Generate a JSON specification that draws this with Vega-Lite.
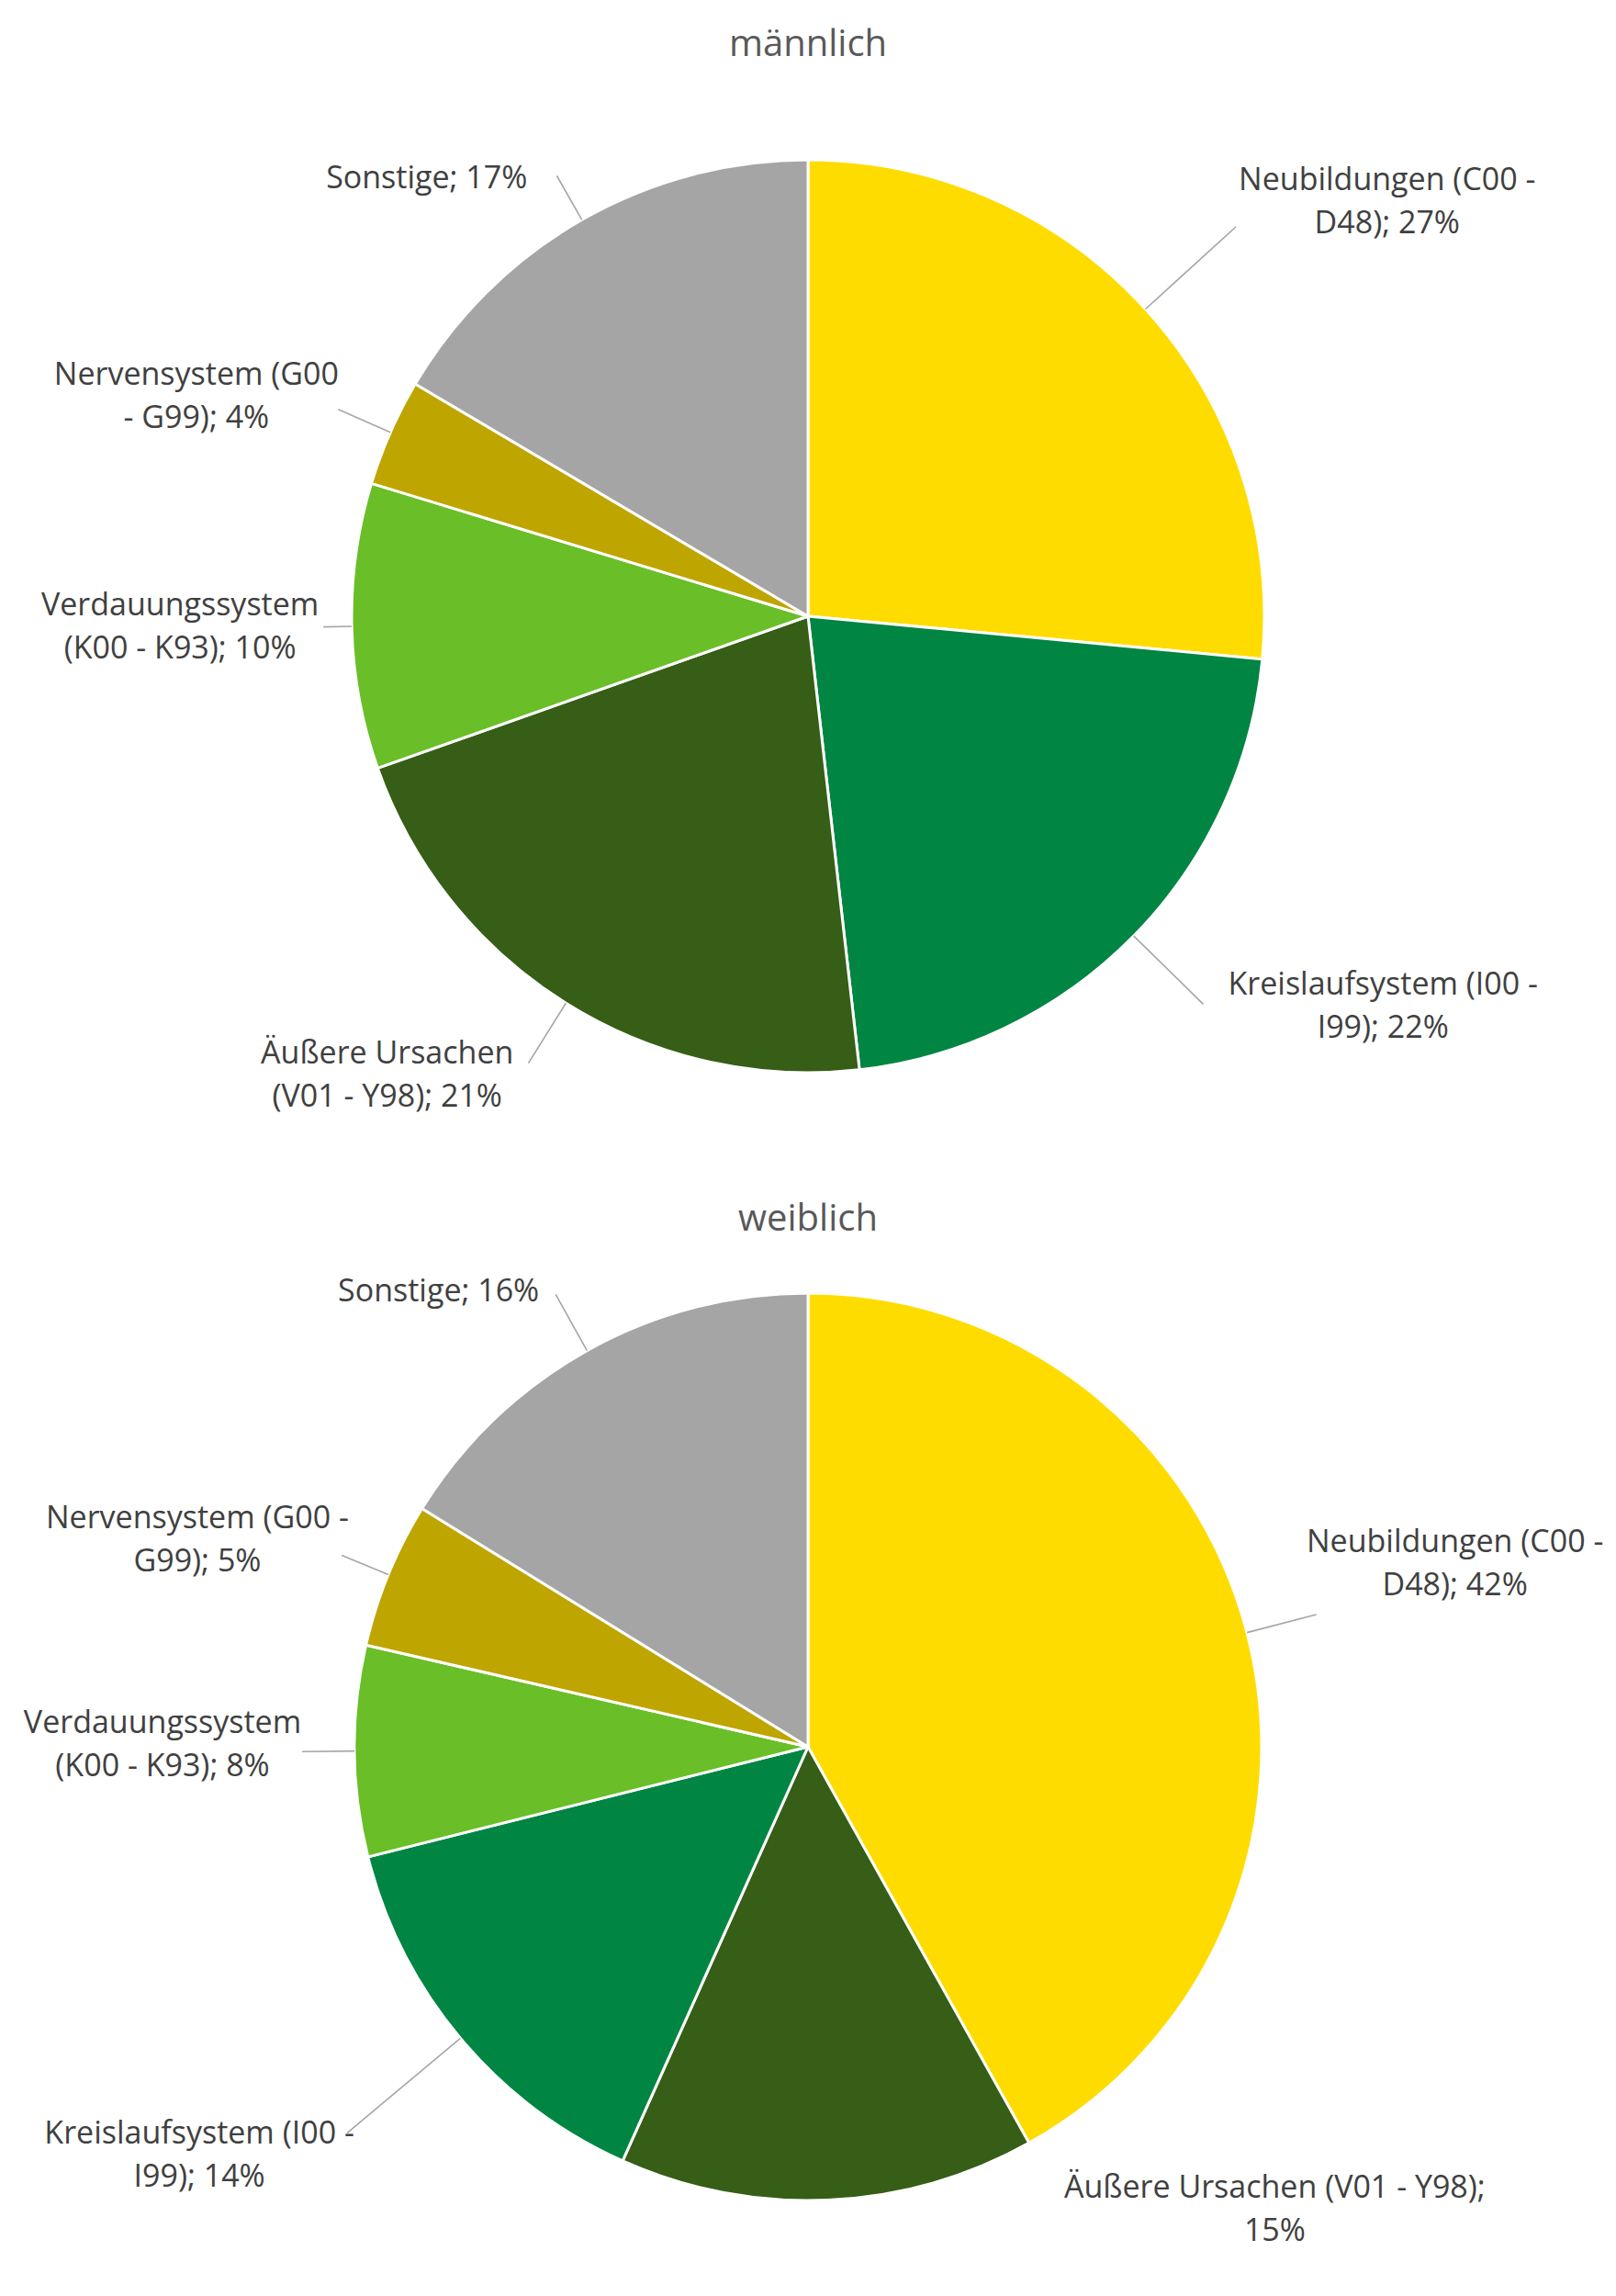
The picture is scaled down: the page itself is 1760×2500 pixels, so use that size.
{
  "$schema": "https://vega.github.io/schema/vega-lite/v6.json",
  "padding": {"left": 0, "right": 0, "top": 29, "bottom": 56},
  "spacing": 47,
  "background": "white",
  "config": {"view": {"stroke": null}},
  "data": {"values": [
    {"sex": "männlich", "cause": "Neubildungen", "ord": 1, "value": 26.5, "label": "Neubildungen (C00 -\nD48); 27%"},
    {"sex": "männlich", "cause": "Kreislaufsystem", "ord": 2, "value": 21.7, "label": "Kreislaufsystem (I00 -\nI99); 22%"},
    {"sex": "männlich", "cause": "Äußere Ursachen", "ord": 3, "value": 21.4, "label": "Äußere Ursachen\n(V01 - Y98); 21%"},
    {"sex": "männlich", "cause": "Verdauungssystem", "ord": 4, "value": 10.1, "label": "Verdauungssystem\n(K00 - K93); 10%"},
    {"sex": "männlich", "cause": "Nervensystem", "ord": 5, "value": 3.8, "label": "Nervensystem (G00\n- G99); 4%"},
    {"sex": "männlich", "cause": "Sonstige", "ord": 6, "value": 16.5, "label": "Sonstige; 17%"},
    {"sex": "weiblich", "cause": "Neubildungen", "ord": 1, "value": 41.9, "label": "Neubildungen (C00 -\nD48); 42%"},
    {"sex": "weiblich", "cause": "Äußere Ursachen", "ord": 2, "value": 14.8, "label": "Äußere Ursachen (V01 - Y98);\n15%"},
    {"sex": "weiblich", "cause": "Kreislaufsystem", "ord": 3, "value": 14.4, "label": "Kreislaufsystem (I00 -\nI99); 14%"},
    {"sex": "weiblich", "cause": "Verdauungssystem", "ord": 4, "value": 7.5, "label": "Verdauungssystem\n(K00 - K93); 8%"},
    {"sex": "weiblich", "cause": "Nervensystem", "ord": 5, "value": 5.2, "label": "Nervensystem (G00 -\nG99); 5%"},
    {"sex": "weiblich", "cause": "Sonstige", "ord": 6, "value": 16.2, "label": "Sonstige; 16%"}
  ]},
  "resolve": {"scale": {"theta": "independent"}},
  "vconcat": [
    {
      "title": {"text": "männlich", "fontSize": 40, "font": "Open Sans", "color": "#595959", "fontWeight": "normal", "offset": 12, "anchor": "middle", "frame": "group"},
      "width": 1760,
      "height": 1180,
      "transform": [{"filter": "datum.sex === 'männlich'"}],
      "encoding": {
        "theta": {"field": "value", "type": "quantitative", "stack": true},
        "order": {"field": "ord", "type": "quantitative"},
        "color": {"field": "cause", "type": "nominal", "legend": null,
          "scale": {"domain": ["Neubildungen", "Kreislaufsystem", "Äußere Ursachen", "Verdauungssystem", "Nervensystem", "Sonstige"],
                    "range": ["#FFDC00", "#008542", "#365E16", "#6ABE28", "#BFA500", "#A5A5A5"]}}
      },
      "layer": [
        {"mark": {"type": "arc", "radius": 497, "stroke": "white", "strokeWidth": 3}},
        {"mark": {"type": "arc", "filled": false, "radius2": 497, "padAngle": 3.1416, "strokeWidth": 1.6,
                  "radius": {"expr": "datum.cause === 'Neubildungen' ? 630 : datum.cause === 'Kreislaufsystem' ? 603 : datum.cause === 'Äußere Ursachen' ? 574 : datum.cause === 'Verdauungssystem' ? 528 : datum.cause === 'Nervensystem' ? 559 : 552"}},
         "encoding": {"color": {"value": "#A6A6A6"}}},
        {"mark": {"type": "text", "radius": 600, "font": "Open Sans", "fontSize": 34, "lineBreak": "\n", "lineHeight": 47, "align": "center", "baseline": "middle",
                  "dx": {"expr": "datum.cause === 'Neubildungen' ? 187 : datum.cause === 'Kreislaufsystem' ? 198 : datum.cause === 'Äußere Ursachen' ? -140 : datum.cause === 'Verdauungssystem' ? -84 : datum.cause === 'Nervensystem' ? -117 : -118"},
                  "dy": {"expr": "datum.cause === 'Neubildungen' ? -70 : datum.cause === 'Kreislaufsystem' ? -18 : datum.cause === 'Äußere Ursachen' ? -32 : datum.cause === 'Verdauungssystem' ? -24 : datum.cause === 'Nervensystem' ? -20 : 45"}},
         "encoding": {
           "text": {"field": "label"},
           "color": {"value": "#404040"}
         }}
      ]
    },
    {
      "title": {"text": "weiblich", "fontSize": 40, "font": "Open Sans", "color": "#595959", "fontWeight": "normal", "offset": 12, "anchor": "middle", "frame": "group"},
      "width": 1760,
      "height": 1084,
      "transform": [{"filter": "datum.sex === 'weiblich'"}],
      "encoding": {
        "theta": {"field": "value", "type": "quantitative", "stack": true},
        "order": {"field": "ord", "type": "quantitative"},
        "color": {"field": "cause", "type": "nominal", "legend": null,
          "scale": {"domain": ["Neubildungen", "Kreislaufsystem", "Äußere Ursachen", "Verdauungssystem", "Nervensystem", "Sonstige"],
                    "range": ["#FFDC00", "#008542", "#365E16", "#6ABE28", "#BFA500", "#A5A5A5"]}}
      },
      "layer": [
        {"mark": {"type": "arc", "radius": 494, "stroke": "white", "strokeWidth": 3}},
        {"mark": {"type": "arc", "filled": false, "radius2": 494, "padAngle": 3.1416, "strokeWidth": 1.6,
                  "radius": {"expr": "datum.cause === 'Neubildungen' ? 572 : datum.cause === 'Kreislaufsystem' ? 655 : datum.cause === 'Äußere Ursachen' ? 494 : datum.cause === 'Verdauungssystem' ? 551 : datum.cause === 'Nervensystem' ? 549 : 564"}},
         "encoding": {"color": {"value": "#A6A6A6"}}},
        {"mark": {"type": "text", "radius": 600, "font": "Open Sans", "fontSize": 34, "lineBreak": "\n", "lineHeight": 47, "align": "center", "baseline": "middle",
                  "dx": {"expr": "datum.cause === 'Neubildungen' ? 124 : datum.cause === 'Äußere Ursachen' ? 482 : datum.cause === 'Kreislaufsystem' ? -203 : datum.cause === 'Verdauungssystem' ? -103 : datum.cause === 'Nervensystem' ? -110 : -110"},
                  "dy": {"expr": "datum.cause === 'Neubildungen' ? -71 : datum.cause === 'Äußere Ursachen' ? -118 : datum.cause === 'Kreislaufsystem' ? 37 : datum.cause === 'Verdauungssystem' ? -31 : datum.cause === 'Nervensystem' ? -20 : 29"}},
         "encoding": {
           "text": {"field": "label"},
           "color": {"value": "#404040"}
         }}
      ]
    }
  ]
}
